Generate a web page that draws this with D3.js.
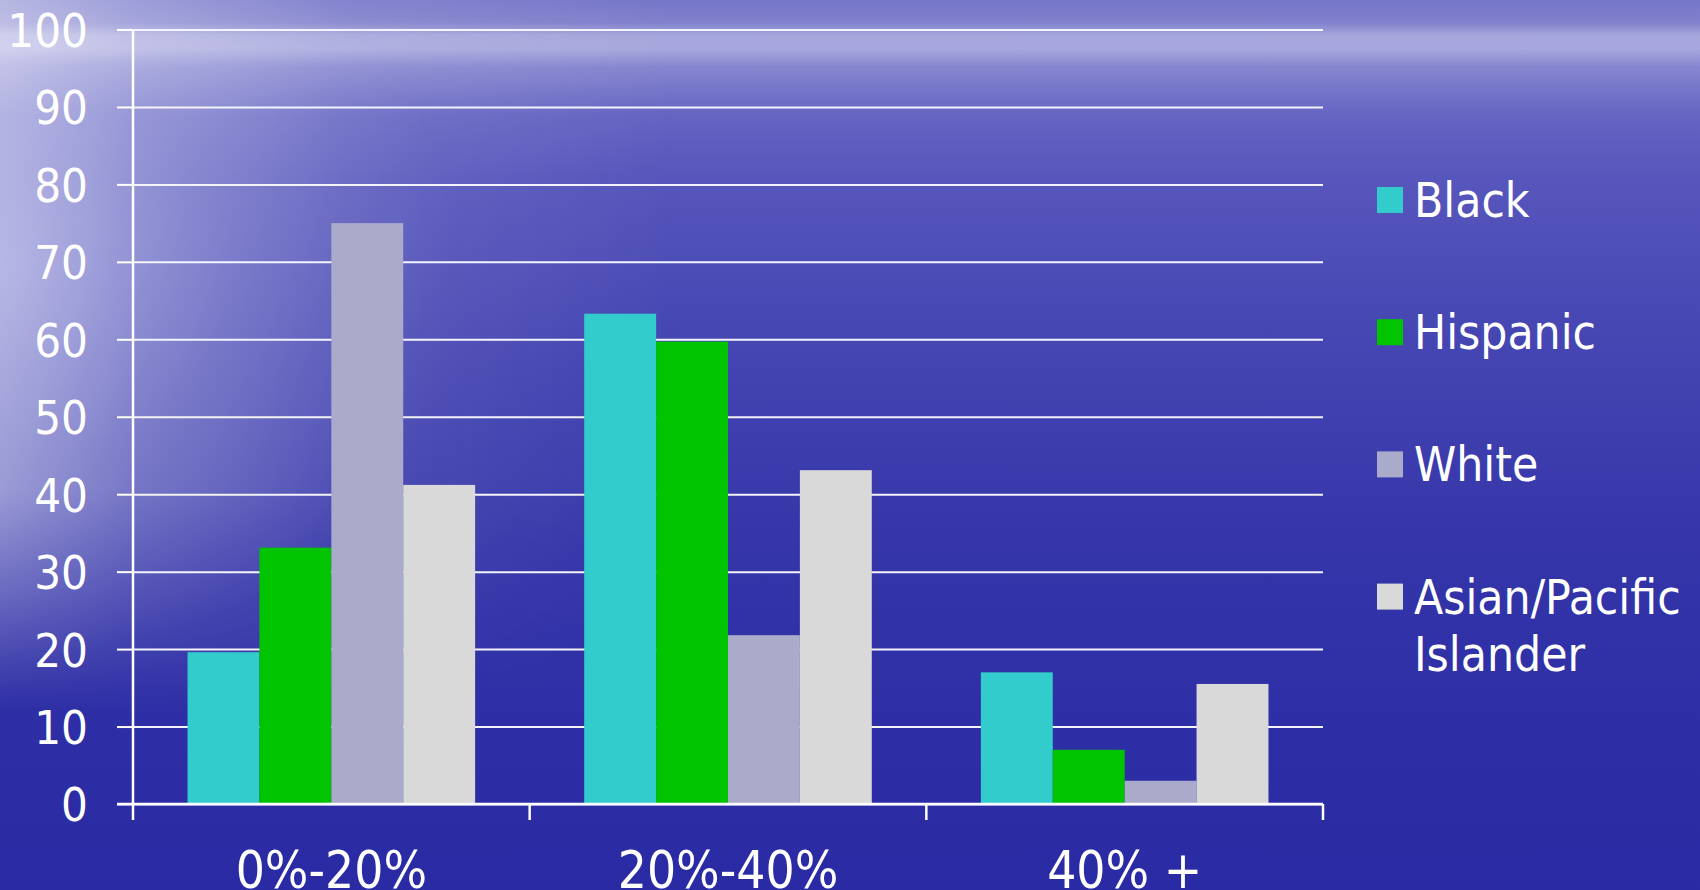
<!DOCTYPE html>
<html>
<head>
<meta charset="utf-8">
<script src="https://cdn.jsdelivr.net/npm/d3@7/dist/d3.min.js"></script>
<style>
html,body{margin:0;padding:0;background:#2a2aa6;overflow:hidden;}
svg{display:block;}
text{font-family:"DejaVu Sans Condensed","DejaVu Sans",sans-serif;font-stretch:condensed;fill:#fff;}
</style>
</head>
<body>
<svg id="chart" width="1700" height="890"></svg>
<script>
const categories = ["0%-20%", "20%-40%", "40% +"];
const seriesNames = ["Black", "Hispanic", "White", "Asian/Pacific Islander"];
const black    = [19.6, 63.3, 17.0];
const hispanic = [33.1, 59.7, 7.0];
const white    = [75.0, 21.8, 3.0];
const asian    = [41.2, 43.1, 15.5];
const yTicks = [0, 10, 20, 30, 40, 50, 60, 70, 80, 90, 100];
const colors = ["#33CCCC", "#00C400", "#AAAACA", "#D9D9D9"];

const seriesValues = [black, hispanic, white, asian];
const svg = d3.select("#chart");
const W = 1700, H = 890;

// ---- background (ocean-like gradient) ----
const defs = svg.append("defs");
const gv = defs.append("linearGradient").attr("id","bgv").attr("x1",0).attr("y1",0).attr("x2",0).attr("y2",1);
[[0,"#7676ca"],[0.025,"#8080cc"],[0.04,"#a6a6dc"],[0.055,"#a8a8de"],[0.075,"#8686d0"],[0.13,"#6464c2"],[0.2,"#5656bc"],[0.4,"#4444b2"],[0.6,"#3636aa"],[0.8,"#2e2ea6"],[1,"#2a2aa4"]]
  .forEach(([o,c]) => gv.append("stop").attr("offset",o).attr("stop-color",c));
const gh = defs.append("linearGradient").attr("id","bgh").attr("x1",0).attr("y1",0).attr("x2",1).attr("y2",0);
[[0,0.45],[0.08,0.25],[0.2,0.1],[0.4,0]].forEach(([o,a]) => gh.append("stop").attr("offset",o).attr("stop-color","#ffffff").attr("stop-opacity",a));
const gr = defs.append("radialGradient").attr("id","bgr").attr("cx",0).attr("cy",0.3).attr("r",0.45)
  .attr("gradientTransform","scale(0.6,1)");
[[0,0.35],[0.5,0.12],[1,0]].forEach(([o,a]) => gr.append("stop").attr("offset",o).attr("stop-color","#e8e8ff").attr("stop-opacity",a));
const gm = defs.append("linearGradient").attr("id","bgm").attr("x1",0).attr("y1",0).attr("x2",0).attr("y2",1);
[[0,1],[0.55,1],[0.8,0]].forEach(([o,a]) => gm.append("stop").attr("offset",o).attr("stop-color","#ffffff").attr("stop-opacity",a));
const mask = defs.append("mask").attr("id","leftmask");
mask.append("rect").attr("width",W).attr("height",H).attr("fill","url(#bgm)");

svg.append("rect").attr("width",W).attr("height",H).attr("fill","url(#bgv)");
svg.append("rect").attr("width",W).attr("height",H).attr("fill","url(#bgh)").attr("mask","url(#leftmask)");
svg.append("rect").attr("width",W).attr("height",H).attr("fill","url(#bgr)");

// ---- scales ----
const plotLeft = 133, plotRight = 1323, plotTop = 29.5, plotBottom = 804;
const y = d3.scaleLinear().domain([0, 100]).range([plotBottom, plotTop]);
const x0 = d3.scaleBand().domain(categories).range([plotLeft, plotRight]).paddingInner(0.275).paddingOuter(0.1375);
const xCat = d3.scaleBand().domain(categories).range([plotLeft, plotRight]).padding(0);
const x1 = d3.scaleBand().domain(seriesNames).range([0, x0.bandwidth()]).padding(0);

// ---- gridlines ----
const grid = svg.append("g").attr("transform", `translate(${plotLeft},0)`)
  .call(d3.axisLeft(y).tickValues(yTicks).tickSize(-(plotRight - plotLeft)).tickFormat(""));
grid.select(".domain").remove();
grid.selectAll("line").attr("stroke","#f4f4ff").attr("stroke-width",2);

// ---- bars ----
const groups = svg.append("g").selectAll("g").data(categories).join("g")
  .attr("transform", d => `translate(${x0(d)},0)`);
groups.selectAll("rect")
  .data((c, ci) => seriesNames.map((s, si) => ({s, si, v: seriesValues[si][ci]})))
  .join("rect")
  .attr("x", d => x1(d.s))
  .attr("y", d => y(d.v))
  .attr("width", x1.bandwidth())
  .attr("height", d => y(0) - y(d.v))
  .attr("fill", d => colors[d.si]);

// ---- y axis ----
const yAxis = svg.append("g").attr("transform", `translate(${plotLeft},0)`)
  .call(d3.axisLeft(y).tickValues(yTicks).tickSize(16).tickPadding(29));
yAxis.select(".domain").attr("stroke","#fff").attr("stroke-width",2.5).attr("d", `M0,${plotTop}V${plotBottom}`);
yAxis.selectAll("line").attr("stroke","#fff").attr("stroke-width",2);
yAxis.selectAll("text").attr("font-size",47).attr("fill","#fff")
  .attr("font-family",'"DejaVu Sans Condensed","DejaVu Sans",sans-serif').attr("dy","0.36em");

// ---- x axis ----
const xAxisG = svg.append("g").attr("transform", `translate(0,${plotBottom})`);
xAxisG.append("line").attr("x1", plotLeft - 16).attr("x2", plotRight).attr("y1",0).attr("y2",0)
  .attr("stroke","#fff").attr("stroke-width",2.5);
const bounds = categories.map(c => xCat(c)).concat([xCat(categories[categories.length-1]) + xCat.bandwidth()]);
xAxisG.selectAll("line.tick").data(bounds).join("line").attr("class","tick")
  .attr("x1", d => d).attr("x2", d => d).attr("y1", 0).attr("y2", 16)
  .attr("stroke","#fff").attr("stroke-width",2.5);
xAxisG.selectAll("text").data(categories).join("text")
  .attr("x", d => xCat(d) + xCat.bandwidth()/2)
  .attr("y", 84)
  .attr("text-anchor","middle")
  .attr("font-size",51)
  .text(d => d);

// ---- legend ----
const legendX = 1377, legendTop = 187, legendStep = 132.2;
const lg = svg.append("g");
const items = lg.selectAll("g").data(seriesNames).join("g")
  .attr("transform", (d,i) => `translate(${legendX},${legendTop + i*legendStep})`);
items.append("rect").attr("width",26).attr("height",26).attr("fill",(d,i) => colors[i]);
items.append("text").attr("x", 37).attr("y", 30).attr("font-size",47.5)
  .each(function(d){
    const t = d3.select(this);
    const parts = d === "Asian/Pacific Islander" ? ["Asian/Pacific", "Islander"] : [d];
    parts.forEach((p, k) => t.append("tspan").attr("x", 37).attr("dy", k === 0 ? 0 : 57).text(p));
  });
</script>
</body>
</html>
